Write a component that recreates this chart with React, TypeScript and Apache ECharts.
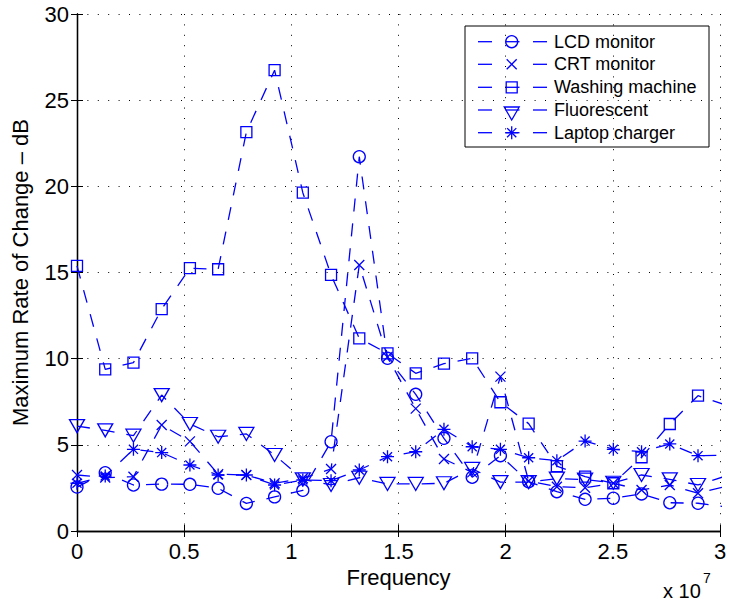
import React, { useEffect, useRef } from 'react';
import * as echarts from 'echarts';

// Measurement frequencies (Hz)
const frequencies = [
  0, 1.317e6, 2.634e6, 3.951e6, 5.268e6, 6.585e6, 7.902e6, 9.219e6,
  10.536e6, 11.853e6, 13.17e6, 14.487e6, 15.804e6, 17.121e6, 18.438e6, 19.755e6,
  21.072e6, 22.389e6, 23.706e6, 25.023e6, 26.34e6, 27.657e6, 28.974e6, 30.291e6,
];

// Maximum rate of change (dB) per appliance
const lcdMonitor = [
  2.55, 3.38, 2.67, 2.72, 2.71, 2.48, 1.6, 1.98, 2.36, 5.18, 21.72, 10.02,
  7.93, 5.38, 3.12, 4.37, 2.86, 2.28, 1.84, 1.9, 2.15, 1.64, 1.61, 1.4,
];
const crtMonitor = [
  3.25, 3.1, 3.15, 6.15, 5.2, 3.3, 3.25, 2.77, 3.06, 3.6, 15.44, 10.1,
  7.1, 4.18, 3.4, 8.96, 2.9, 2.57, 2.51, 2.77, 2.38, 2.67, 2.19, 2.6,
];
const washingMachine = [
  15.38, 9.38, 9.77, 12.88, 15.25, 15.19, 23.14, 26.74, 19.63, 14.86, 11.18, 10.31,
  9.15, 9.71, 10.02, 7.47, 6.23, 3.77, 3.15, 2.77, 4.28, 6.21, 7.85, 7.3,
];
const fluorescent = [
  6.09, 5.84, 5.53, 7.89, 6.21, 5.47, 5.63, 4.41, 3.0, 2.67, 3.09, 2.73,
  2.73, 2.77, 3.6, 2.84, 2.84, 3.04, 2.98, 2.8, 3.25, 3.0, 2.67, 3.2,
];
const laptopCharger = [
  2.77, 3.19, 4.74, 4.55, 3.83, 3.25, 3.25, 2.67, 2.96, 2.92, 3.54, 4.31,
  4.6, 5.9, 4.89, 4.74, 4.25, 4.08, 5.22, 4.74, 4.6, 5.05, 4.37, 4.4,
];

const seriesNames = ['LCD monitor', 'CRT monitor', 'Washing machine', 'Fluorescent', 'Laptop charger'];
const xTickLabels = ['0', '0.5', '1', '1.5', '2', '2.5', '3'];

const BLUE = '#0000ff';
const FONT = '"Liberation Sans", Arial, Helvetica, sans-serif';

const SYM_X = 'path://M0,0L10,10M10,0L0,10';
const SYM_STAR = 'path://M5,0L5,10M0,5L10,5M1.5,1.5L8.5,8.5M8.5,1.5L1.5,8.5';
const SYM_TRI_DOWN = 'path://M0,0L16,0L8,14Z';

function makeSeries(name: string, values: number[], symbol: string, symbolSize: number | number[]) {
  return {
    type: 'line',
    name,
    data: frequencies.map((f, i) => [f, values[i]]),
    symbol,
    symbolSize,
    showAllSymbol: true,
    clip: true,
    silent: true,
    lineStyle: { color: BLUE, width: 1.3, type: [13, 12] },
    itemStyle: { color: 'none', borderColor: BLUE, borderWidth: 1.3 },
    emphasis: { disabled: true },
  };
}

function legendGraphics() {
  const boxX = 465, boxY = 26, boxW = 244, boxH = 121;
  const rowYs = [41.7, 64.3, 87.3, 110, 132.7];
  const mx = 511.7;
  const stroke = { stroke: BLUE, lineWidth: 1.3, fill: 'none' };
  const els: any[] = [
    { type: 'rect', shape: { x: boxX, y: boxY, width: boxW, height: boxH }, style: { fill: '#fff', stroke: '#000', lineWidth: 1 } },
  ];
  rowYs.forEach((y, i) => {
    els.push({ type: 'line', shape: { x1: 478, y1: y, x2: 492, y2: y }, style: stroke });
    els.push({ type: 'line', shape: { x1: 533, y1: y, x2: 547, y2: y }, style: stroke });
    if (i !== 1) {
      els.push({ type: 'line', shape: { x1: 505.5, y1: y, x2: 519.5, y2: y }, style: stroke });
    }
    if (i === 0) {
      els.push({ type: 'circle', shape: { cx: mx, cy: y, r: 6 }, style: stroke });
    } else if (i === 1) {
      els.push({ type: 'line', shape: { x1: mx - 5, y1: y - 5, x2: mx + 5, y2: y + 5 }, style: stroke });
      els.push({ type: 'line', shape: { x1: mx + 5, y1: y - 5, x2: mx - 5, y2: y + 5 }, style: stroke });
    } else if (i === 2) {
      els.push({ type: 'rect', shape: { x: mx - 5.5, y: y - 5.5, width: 11, height: 11 }, style: stroke });
    } else if (i === 3) {
      els.push({ type: 'polygon', shape: { points: [[mx - 7.5, y - 3], [mx + 7.5, y - 3], [mx, y + 10]] }, style: stroke });
    } else {
      const r = 6.5, d = 4.6;
      els.push({ type: 'line', shape: { x1: mx, y1: y - r, x2: mx, y2: y + r }, style: stroke });
      els.push({ type: 'line', shape: { x1: mx - r, y1: y, x2: mx + r, y2: y }, style: stroke });
      els.push({ type: 'line', shape: { x1: mx - d, y1: y - d, x2: mx + d, y2: y + d }, style: stroke });
      els.push({ type: 'line', shape: { x1: mx + d, y1: y - d, x2: mx - d, y2: y + d }, style: stroke });
    }
    els.push({
      type: 'text',
      x: 554,
      y,
      style: { text: seriesNames[i], fontSize: 18, fontFamily: FONT, fill: '#000', verticalAlign: 'middle', align: 'left' },
    });
  });
  return els;
}

export default function App() {
  const ref = useRef<HTMLDivElement>(null);

  useEffect(() => {
    const chart = echarts.init(ref.current!, null, { renderer: 'svg' });
    const axisLine = { show: true, lineStyle: { color: '#000', width: 1.3 } };
    const dotted = { show: true, lineStyle: { color: '#000', width: 1, type: [1, 9.4] } };
    const tick = { show: true, inside: true, length: 6, lineStyle: { color: '#000', width: 1 } };
    const tickLabelStyle = { color: '#000', fontSize: 22, fontFamily: FONT };

    chart.setOption({
      animation: false,
      backgroundColor: '#fff',
      grid: { left: 77, right: 10, top: 14, bottom: 73, containLabel: false },
      xAxis: [
        {
          type: 'value',
          position: 'bottom',
          min: 0,
          max: 3e7,
          interval: 5e6,
          axisLine,
          axisTick: tick,
          splitLine: dotted,
          axisLabel: {
            ...tickLabelStyle,
            margin: 9,
            formatter: (v: number) => xTickLabels[Math.round(v / 5e6)] ?? '',
          },
          name: 'Frequency',
          nameLocation: 'middle',
          nameGap: 33,
          nameTextStyle: { color: '#000', fontSize: 22, fontFamily: FONT },
        },
        {
          type: 'value',
          position: 'top',
          min: 0,
          max: 3e7,
          interval: 5e6,
          axisLine,
          axisTick: tick,
          splitLine: { show: false },
          axisLabel: { show: false },
        },
      ],
      yAxis: [
        {
          type: 'value',
          position: 'left',
          min: 0,
          max: 30,
          interval: 5,
          axisLine,
          axisTick: tick,
          splitLine: dotted,
          axisLabel: { ...tickLabelStyle, margin: 8 },
          name: 'Maximum Rate of Change \u2013 dB',
          nameLocation: 'middle',
          nameGap: 46,
          nameTextStyle: { color: '#000', fontSize: 22, fontFamily: FONT },
        },
        {
          type: 'value',
          position: 'right',
          min: 0,
          max: 30,
          interval: 5,
          axisLine,
          axisTick: tick,
          splitLine: { show: false },
          axisLabel: { show: false },
        },
      ],
      series: [
        makeSeries(seriesNames[0], lcdMonitor, 'circle', 12),
        makeSeries(seriesNames[1], crtMonitor, SYM_X, 10),
        makeSeries(seriesNames[2], washingMachine, 'rect', 11),
        makeSeries(seriesNames[3], fluorescent, SYM_TRI_DOWN, [15, 13]),
        makeSeries(seriesNames[4], laptopCharger, SYM_STAR, 13),
      ],
      graphic: [
        ...legendGraphics(),
        {
          type: 'text',
          x: 663,
          y: 591,
          style: { text: 'x 10', fontSize: 20, fontFamily: FONT, fill: '#000', verticalAlign: 'middle', align: 'left' },
        },
        {
          type: 'text',
          x: 703,
          y: 578,
          style: { text: '7', fontSize: 14, fontFamily: FONT, fill: '#000', verticalAlign: 'middle', align: 'left' },
        },
      ],
    });

    return () => chart.dispose();
  }, []);

  return (
    <div
      ref={ref}
      style={{ position: 'fixed', left: 0, top: 0, width: 730, height: 604, background: '#fff' }}
    />
  );
}
